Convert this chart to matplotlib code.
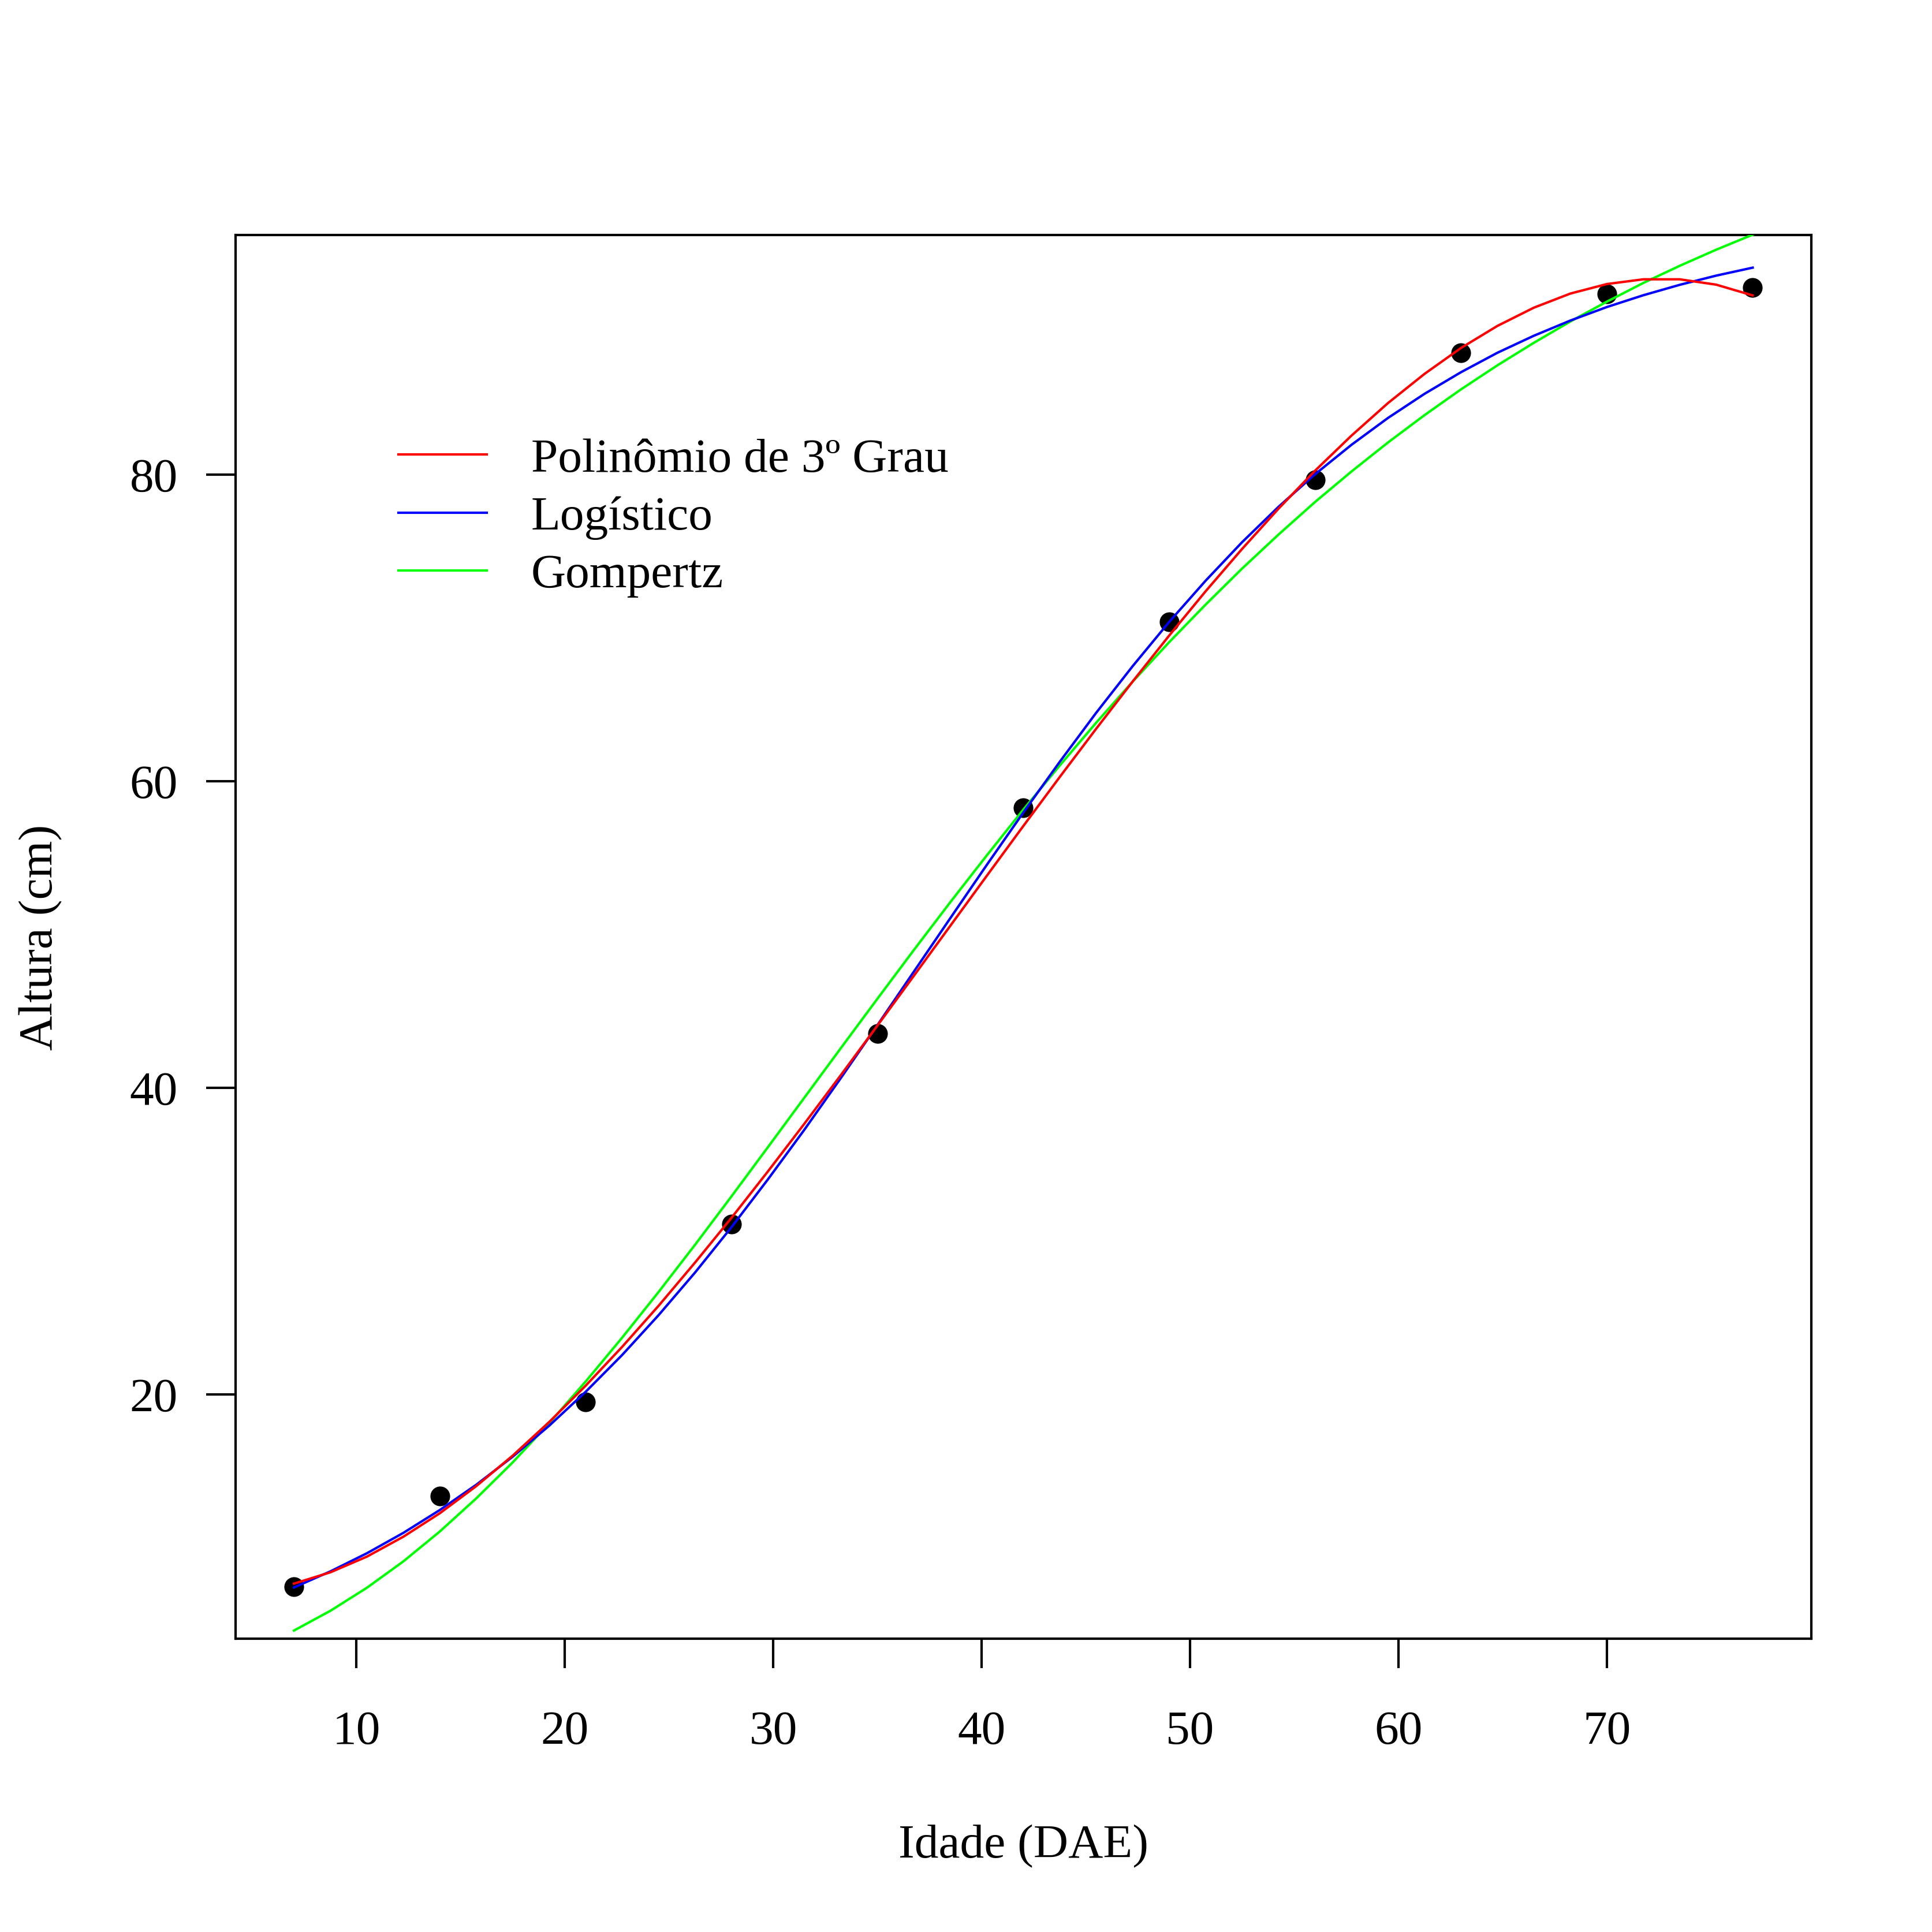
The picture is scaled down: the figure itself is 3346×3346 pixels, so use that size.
import matplotlib
matplotlib.use("Agg")
import matplotlib.pyplot as plt

plt.rcParams["font.family"] = ["Liberation Serif", "DejaVu Serif"]

# Observed heights (cm) at each age (days after emergence)
idade = [7, 14, 21, 28, 35, 42, 49, 56, 63, 70, 77]
altura = [7.46, 13.39, 19.51, 31.12, 43.53, 58.25, 70.37, 79.66, 87.94, 91.76, 92.2]

# Fitted curves
idade_curva = [7, 8.75, 10.5, 12.25, 14, 15.75, 17.5, 19.25, 21, 22.75, 24.5,
               26.25, 28, 29.75, 31.5, 33.25, 35, 36.75, 38.5, 40.25, 42,
               43.75, 45.5, 47.25, 49, 50.75, 52.5, 54.25, 56, 57.75, 59.5,
               61.25, 63, 64.75, 66.5, 68.25, 70, 71.75, 73.5, 75.25, 77]
polinomio = [7.67, 8.41, 9.43, 10.73, 12.26, 14.03, 16.02, 18.21, 20.58, 23.11,
             25.79, 28.61, 31.53, 34.56, 37.67, 40.84, 44.06, 47.31, 50.57,
             53.83, 57.07, 60.27, 63.42, 66.50, 69.49, 72.38, 75.14, 77.77,
             80.24, 82.53, 84.65, 86.55, 88.24, 89.68, 90.87, 91.79, 92.41,
             92.72, 92.72, 92.37, 91.67]
logistico = [7.42, 8.47, 9.65, 10.98, 12.47, 14.12, 15.95, 17.97, 20.18, 22.58,
             25.18, 27.96, 30.92, 34.04, 37.28, 40.65, 44.09, 47.58, 51.07,
             54.54, 57.95, 61.26, 64.46, 67.50, 70.38, 73.07, 75.58, 77.89,
             80.01, 81.93, 83.68, 85.25, 86.66, 87.93, 89.04, 90.03, 90.91,
             91.68, 92.36, 92.96, 93.48]
gompertz = [4.61, 5.90, 7.40, 9.12, 11.07, 13.23, 15.58, 18.13, 20.85, 23.71,
            26.69, 29.77, 32.93, 36.14, 39.37, 42.60, 45.81, 48.99, 52.11,
            55.16, 58.14, 61.02, 63.81, 66.49, 69.06, 71.51, 73.86, 76.08,
            78.20, 80.19, 82.08, 83.86, 85.54, 87.11, 88.58, 89.97, 91.26,
            92.48, 93.60, 94.65, 95.63]

legenda = ["Polinômio de 3º Grau", "Logístico", "Gompertz"]
x_ticks = [10, 20, 30, 40, 50, 60, 70]
y_ticks = [20, 40, 60, 80]

W = 3346  # output size in pixels
FS = 20

fig = plt.figure(figsize=(W / 300, W / 300), dpi=300)
ax = fig.add_axes([408 / W, 1 - 2838.3 / W, (3136.5 - 408) / W, (2838.3 - 407.5) / W])

# limits like R's default 4% extension of the data range
xr = max(idade) - min(idade)
yr = max(altura) - min(altura)
ax.set_xlim(min(idade) - 0.04 * xr, max(idade) + 0.04 * xr)
ax.set_ylim(min(altura) - 0.04 * yr, max(altura) + 0.04 * yr)

ax.plot(idade, altura, "o", color="black", markersize=8.2, markeredgewidth=0, zorder=2)
l_g, = ax.plot(idade_curva, gompertz, color="#00FF00", lw=1.0, zorder=3)
l_l, = ax.plot(idade_curva, logistico, color="#0000FF", lw=1.0, zorder=4)
l_p, = ax.plot(idade_curva, polinomio, color="#FF0000", lw=1.0, zorder=5)

ax.set_xticks(x_ticks)
ax.set_yticks(y_ticks)
ax.tick_params(axis="both", direction="out", length=12.2, width=1.0,
               labelsize=FS, colors="black")
ax.tick_params(axis="x", pad=17.5)
ax.tick_params(axis="y", pad=11.8)
for s in ax.spines.values():
    s.set_linewidth(1.0)

ax.legend([l_p, l_l, l_g], legenda, loc="upper left",
          bbox_to_anchor=(690 / W, 1 - 758 / W), bbox_transform=fig.transFigure,
          frameon=False, borderpad=0, borderaxespad=0, fontsize=FS,
          handlelength=1.84, handletextpad=0.92, labelspacing=0.29)

fig.text(1772 / W, 1 - 3217 / W, "Idade (DAE)", fontsize=FS,
         ha="center", va="baseline")
fig.text(90 / W, 1 - 1623 / W, "Altura (cm)", fontsize=FS, rotation=90,
         rotation_mode="anchor", ha="center", va="baseline")

fig.savefig("out.png", dpi=300)
